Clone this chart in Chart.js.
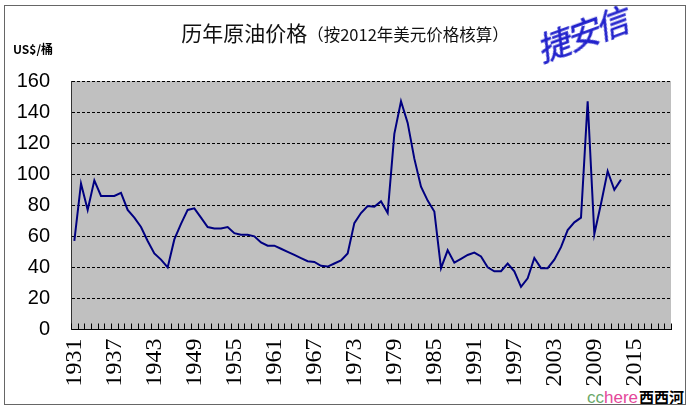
<!DOCTYPE html>
<html>
<head>
<meta charset="utf-8">
<script src="https://cdn.jsdelivr.net/npm/chart.js"></script>
<style>
  body { margin: 0; background: #fff; }
  #wrap { position: relative; width: 690px; height: 410px; overflow: hidden; background: #fff; }
  #frame { position: absolute; left: 4px; top: 5px; width: 680px; height: 398px; border: 1px solid #666; pointer-events: none; }
  #title { position: absolute; left: 0; top: 17px; width: 690px; text-align: center; font-family: "Noto Sans CJK SC"; color: #111; white-space: nowrap; }
  #title .big { font-size: 21px; }
  #title .small { font-size: 16.5px; }
  #unit { position: absolute; left: 13px; top: 40px; font: bold 12px "Noto Sans CJK SC"; color: #000; }
  #mark { position: absolute; left: 544px; top: 28px; display: inline-block; white-space: nowrap; font: italic 33px "Noto Sans CJK SC"; line-height: 40px; color: #2222cc; transform: rotate(-20deg); transform-origin: 0 100%; letter-spacing: -2px; -webkit-text-stroke: 0.6px #2222cc; }
  #logo { position: absolute; left: 587px; top: 386px; width: 103px; height: 24px; background: #fff; white-space: nowrap; }
  #logo .cc { font: 17px "Liberation Sans"; color: #6aa86a; }
  #logo .here { font: 17px "Liberation Sans"; color: #e4479a; }
  #logo .cn { font: bold 15px "Noto Sans CJK SC"; color: #000; margin-left: 1px; }
  canvas { position: absolute; left: 0; top: 0; }
</style>
</head>
<body>
<div id="wrap">
  <canvas id="oil" width="690" height="410"></canvas>
  <div id="title"><span class="big">历年原油价格</span><span class="small">（按2012年美元价格核算）</span></div>
  <div id="unit">US$/桶</div>
  <div id="mark">捷安信</div>
  <div id="logo"><span class="cc">cc</span><span class="here">here</span><span class="cn">西西河</span></div>
  <div id="frame"></div>
</div>
<script>
// annual oil price, US$ per barrel (2012 dollars), 1931 .. 2013
const startYear = 1931
const prices = [
  57, 94, 77, 96, 86, 86, 86, 88, 77, 72,        // 1931-1940
  66, 57, 49, 45, 40, 58, 68, 77, 78, 72,        // 1941-1950
  66, 65, 65, 66, 62, 61, 61, 60, 56, 54,        // 1951-1960
  54, 52, 50, 48, 46, 44, 43.5, 41, 40.5, 42.5,  // 1961-1970
  44.5, 49, 68.5, 75, 79.5, 79, 82.5, 75, 126, 147, // 1971-1980
  133, 110, 92, 83, 76, 39.5, 51, 43, 45.5, 48,  // 1981-1990
  49.5, 47, 40, 37.5, 37.5, 42.5, 37.5, 27.5, 33, 46, // 1991-2000
  39.5, 39.5, 45, 53, 64, 69, 72, 147, 61.5, 81, // 2001-2010
  102, 90, 96.5                                   // 2011-2013
]
const tickYears = [1931, 1937, 1943, 1949, 1955, 1961, 1967, 1973, 1979, 1985, 1991, 1997, 2003, 2009, 2015]
const yTicks = [0, 20, 40, 60, 80, 100, 120, 140, 160]

const points = prices.map((v, i) => ({ x: startYear + i, y: v }))

// grey plot background + little year ticks inside the bottom edge
const plotDeco = {
  id: 'plotDeco',
  beforeDraw(chart) {
    const { ctx, chartArea: a } = chart
    ctx.save()
    ctx.fillStyle = '#c0c0c0'
    ctx.fillRect(a.left, a.top, a.right - a.left, a.bottom - a.top)
    ctx.restore()
  },
  beforeDatasetsDraw(chart) {
    const { ctx, chartArea: a } = chart
    const xs = chart.scales.x
    ctx.save()
    ctx.strokeStyle = '#000'
    ctx.lineWidth = 1
    ctx.beginPath()
    for (let yr = 1931; yr <= 2021; yr++) {
      const px = Math.round(xs.getPixelForValue(yr - 0.5)) + 0.5
      ctx.moveTo(px, a.bottom)
      ctx.lineTo(px, a.bottom - 6)
    }
    ctx.stroke()
    ctx.restore()
  }
}

const ctx = document.getElementById('oil').getContext('2d')
const chart = new Chart(ctx, {
  type: 'line',
  data: {
    datasets: [{
      data: points,
      borderColor: '#000080',
      borderWidth: 2,
      pointRadius: 0,
      tension: 0,
      fill: false
    }]
  },
  options: {
    responsive: false,
    animation: false,
    layout: { padding: { top: 81, right: 19, left: 0, bottom: 0 } },
    plugins: { legend: { display: false }, tooltip: { enabled: false } },
    scales: {
      x: {
        type: 'linear',
        min: 1930.5,
        max: 2020.5,
        afterBuildTicks: s => { s.ticks = tickYears.map(v => ({ value: v })) },
        afterFit: s => { s.height = 80.5 },
        grid: { display: false, drawTicks: false },
        border: { display: true, color: '#000', width: 1 },
        ticks: {
          autoSkip: false,
          maxRotation: 90,
          minRotation: 90,
          padding: 9,
          color: '#000',
          font: { family: 'Liberation Serif', size: 24 },
          callback: v => String(v)
        }
      },
      y: {
        min: 0,
        max: 160,
        afterBuildTicks: s => { s.ticks = yTicks.map(v => ({ value: v })) },
        afterFit: s => { s.width = 71 },
        grid: { color: '#000', lineWidth: 1, drawTicks: false },
        border: { display: true, color: '#333', width: 1, dash: [3, 2] },
        ticks: {
          padding: 21,
          color: '#000',
          font: { family: 'Liberation Sans', size: 20 }
        }
      }
    }
  },
  plugins: [plotDeco]
})
</script>
</body>
</html>
